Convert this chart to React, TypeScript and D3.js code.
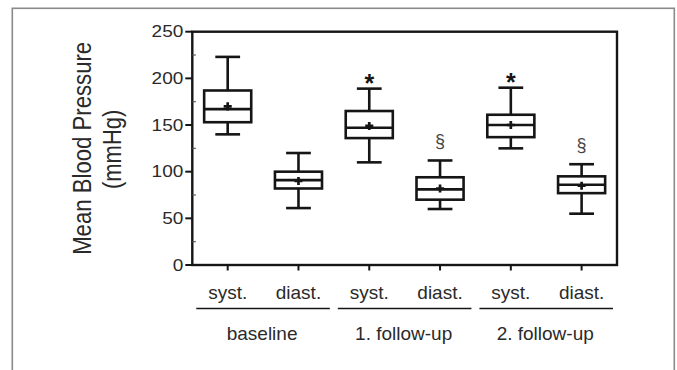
import { useEffect, useRef } from "react";
import * as d3 from "d3";

// categories
const groups = ["baseline", "1. follow-up", "2. follow-up"];
const measures = ["syst.", "diast."];

// box stats, one per box (baseline syst, baseline diast, fu1 syst, ...)
const whiskerLow = [140, 61, 110, 60, 125, 55];
const q1 = [153, 82, 136, 70, 137, 77];
const median = [167, 91, 147, 81, 150, 86];
const q3 = [187, 100, 165, 94, 161, 95];
const whiskerHigh = [223, 120, 189, 112, 190, 108];
const means = [170, 90, 149, 82, 150, 85];
const marks = ["", "", "*", "§", "*", "§"];

const yTicks = [0, 50, 100, 150, 200, 250];
const yMinorTicks = [25, 75, 125, 175, 225];

const WIDTH = 677;
const HEIGHT = 370;
const PLOT = { left: 192.3, right: 617, top: 31.7, bottom: 265 };
const INK = "#151515";
const TEXT = "#2a2a2a";
const FONT = "'Liberation Sans', Arial, sans-serif";

const App = () => {
  const svgRef = useRef<SVGSVGElement | null>(null);

  useEffect(() => {
    if (!svgRef.current) return;
    const svg = d3.select(svgRef.current);
    svg.selectAll("*").remove();

    const n = whiskerLow.length;
    const idx = d3.range(n);

    const x = d3
      .scaleBand<number>()
      .domain(idx)
      .range([PLOT.left, PLOT.right])
      .padding(0);
    const bw = x.bandwidth();
    const cx = (i: number) => x(i)! + bw / 2;

    const y = d3.scaleLinear().domain([0, 250]).range([PLOT.bottom, PLOT.top]);

    // outer figure frame
    svg
      .append("rect")
      .attr("x", 12.3)
      .attr("y", 8.3)
      .attr("width", 662)
      .attr("height", 400)
      .attr("fill", "none")
      .attr("stroke", "#8a8a8a")
      .attr("stroke-width", 1.6);

    // plot frame
    svg
      .append("rect")
      .attr("x", PLOT.left)
      .attr("y", PLOT.top)
      .attr("width", PLOT.right - PLOT.left)
      .attr("height", PLOT.bottom - PLOT.top)
      .attr("fill", "none")
      .attr("stroke", INK)
      .attr("stroke-width", 2.4);

    // y ticks
    svg
      .selectAll(".ytick")
      .data(yTicks)
      .join("line")
      .attr("x1", PLOT.left - 7)
      .attr("x2", PLOT.left)
      .attr("y1", (d) => y(d))
      .attr("y2", (d) => y(d))
      .attr("stroke", INK)
      .attr("stroke-width", 2);

    svg
      .selectAll(".yminor")
      .data(yMinorTicks)
      .join("line")
      .attr("x1", PLOT.left)
      .attr("x2", PLOT.left + 3.5)
      .attr("y1", (d) => y(d))
      .attr("y2", (d) => y(d))
      .attr("stroke", "#555")
      .attr("stroke-width", 1.2);

    svg
      .selectAll(".ylabel")
      .data(yTicks)
      .join("text")
      .attr("x", PLOT.left - 9)
      .attr("y", (d) => y(d))
      .attr("dy", "0.36em")
      .attr("text-anchor", "end")
      .attr("font-family", FONT)
      .attr("font-size", 16)
      .attr("fill", TEXT)
      .attr("textLength", (d) => String(d).length * 0.556 * 19)
      .attr("lengthAdjust", "spacingAndGlyphs")
      .text((d) => String(d));

    // y title (image is slightly stretched sideways)
    svg
      .append("text")
      .attr("transform", `translate(90.7, ${(PLOT.top + PLOT.bottom) / 2}) rotate(-90) scale(1, 1.2)`)
      .attr("text-anchor", "middle")
      .attr("font-family", FONT)
      .attr("font-size", 22)
      .attr("fill", TEXT)
      .attr("textLength", 213)
      .attr("lengthAdjust", "spacingAndGlyphs")
      .text("Mean Blood Pressure");
    svg
      .append("text")
      .attr("transform", `translate(121, ${(PLOT.top + PLOT.bottom) / 2 + 1}) rotate(-90) scale(1, 1.2)`)
      .attr("text-anchor", "middle")
      .attr("font-family", FONT)
      .attr("font-size", 22)
      .attr("fill", TEXT)
      .text("(mmHg)");

    // x ticks
    svg
      .selectAll(".xtick")
      .data(idx)
      .join("line")
      .attr("x1", (i) => cx(i))
      .attr("x2", (i) => cx(i))
      .attr("y1", PLOT.bottom)
      .attr("y2", PLOT.bottom + 5.5)
      .attr("stroke", INK)
      .attr("stroke-width", 2);

    // measure labels
    svg
      .selectAll(".xlabel")
      .data(idx)
      .join("text")
      .attr("x", (i) => cx(i))
      .attr("y", 299)
      .attr("text-anchor", "middle")
      .attr("font-family", FONT)
      .attr("font-size", 19)
      .attr("fill", TEXT)
      .text((i) => measures[i % measures.length]);

    // group underlines + labels
    const gStart = (g: number) => x(g * measures.length)!;
    const gEnd = (g: number) => x(g * measures.length + measures.length - 1)! + bw;

    svg
      .selectAll(".gline")
      .data(groups)
      .join("line")
      .attr("x1", (_, g) => gStart(g) + 4)
      .attr("x2", (_, g) => gEnd(g) - 4)
      .attr("y1", 308.5)
      .attr("y2", 308.5)
      .attr("stroke", INK)
      .attr("stroke-width", 1.6);

    svg
      .selectAll(".glabel")
      .data(groups)
      .join("text")
      .attr("x", (_, g) => (gStart(g) + gEnd(g)) / 2 - 1)
      .attr("y", 340)
      .attr("text-anchor", "middle")
      .attr("font-family", FONT)
      .attr("font-size", 19)
      .attr("fill", TEXT)
      .text((d) => d);

    // boxes
    const boxW = bw * 0.665;
    const capW = bw * 0.35;
    const box = svg.append("g").attr("stroke", INK).attr("stroke-width", 2.6).attr("fill", "none");

    idx.forEach((i) => {
      const c = cx(i);
      box
        .append("line")
        .attr("x1", c)
        .attr("x2", c)
        .attr("y1", y(whiskerHigh[i]))
        .attr("y2", y(q3[i]));
      box
        .append("line")
        .attr("x1", c)
        .attr("x2", c)
        .attr("y1", y(q1[i]))
        .attr("y2", y(whiskerLow[i]));
      [whiskerHigh[i], whiskerLow[i]].forEach((v) => {
        box
          .append("line")
          .attr("x1", c - capW / 2)
          .attr("x2", c + capW / 2)
          .attr("y1", y(v))
          .attr("y2", y(v));
      });
      box
        .append("rect")
        .attr("x", c - boxW / 2)
        .attr("width", boxW)
        .attr("y", y(q3[i]))
        .attr("height", y(q1[i]) - y(q3[i]));
      box
        .append("line")
        .attr("x1", c - boxW / 2)
        .attr("x2", c + boxW / 2)
        .attr("y1", y(median[i]))
        .attr("y2", y(median[i]));
    });

    // means
    svg
      .selectAll(".mean")
      .data(idx)
      .join("path")
      .attr("d", d3.symbol().type(d3.symbolCross).size(36)())
      .attr("transform", (i) => `translate(${cx(i)}, ${y(means[i])})`)
      .attr("fill", INK);

    // significance marks
    svg
      .selectAll(".mark")
      .data(idx.filter((i) => marks[i] !== ""))
      .join("text")
      .attr("x", (i) => cx(i))
      .attr("y", (i) => (marks[i] === "*" ? y(whiskerHigh[i]) + 3 : y(whiskerHigh[i]) - 13))
      .attr("text-anchor", "middle")
      .attr("font-family", FONT)
      .attr("font-size", (i) => (marks[i] === "*" ? 25 : 18))
      .attr("font-weight", (i) => (marks[i] === "*" ? "bold" : "normal"))
      .attr("fill", (i) => (marks[i] === "*" ? INK : "#444"))
      .text((i) => marks[i]);
  }, []);

  return (
    <svg
      ref={svgRef}
      width={WIDTH}
      height={HEIGHT}
      style={{ position: "absolute", left: 0, top: 0, background: "#fff" }}
    />
  );
};

export default App;
